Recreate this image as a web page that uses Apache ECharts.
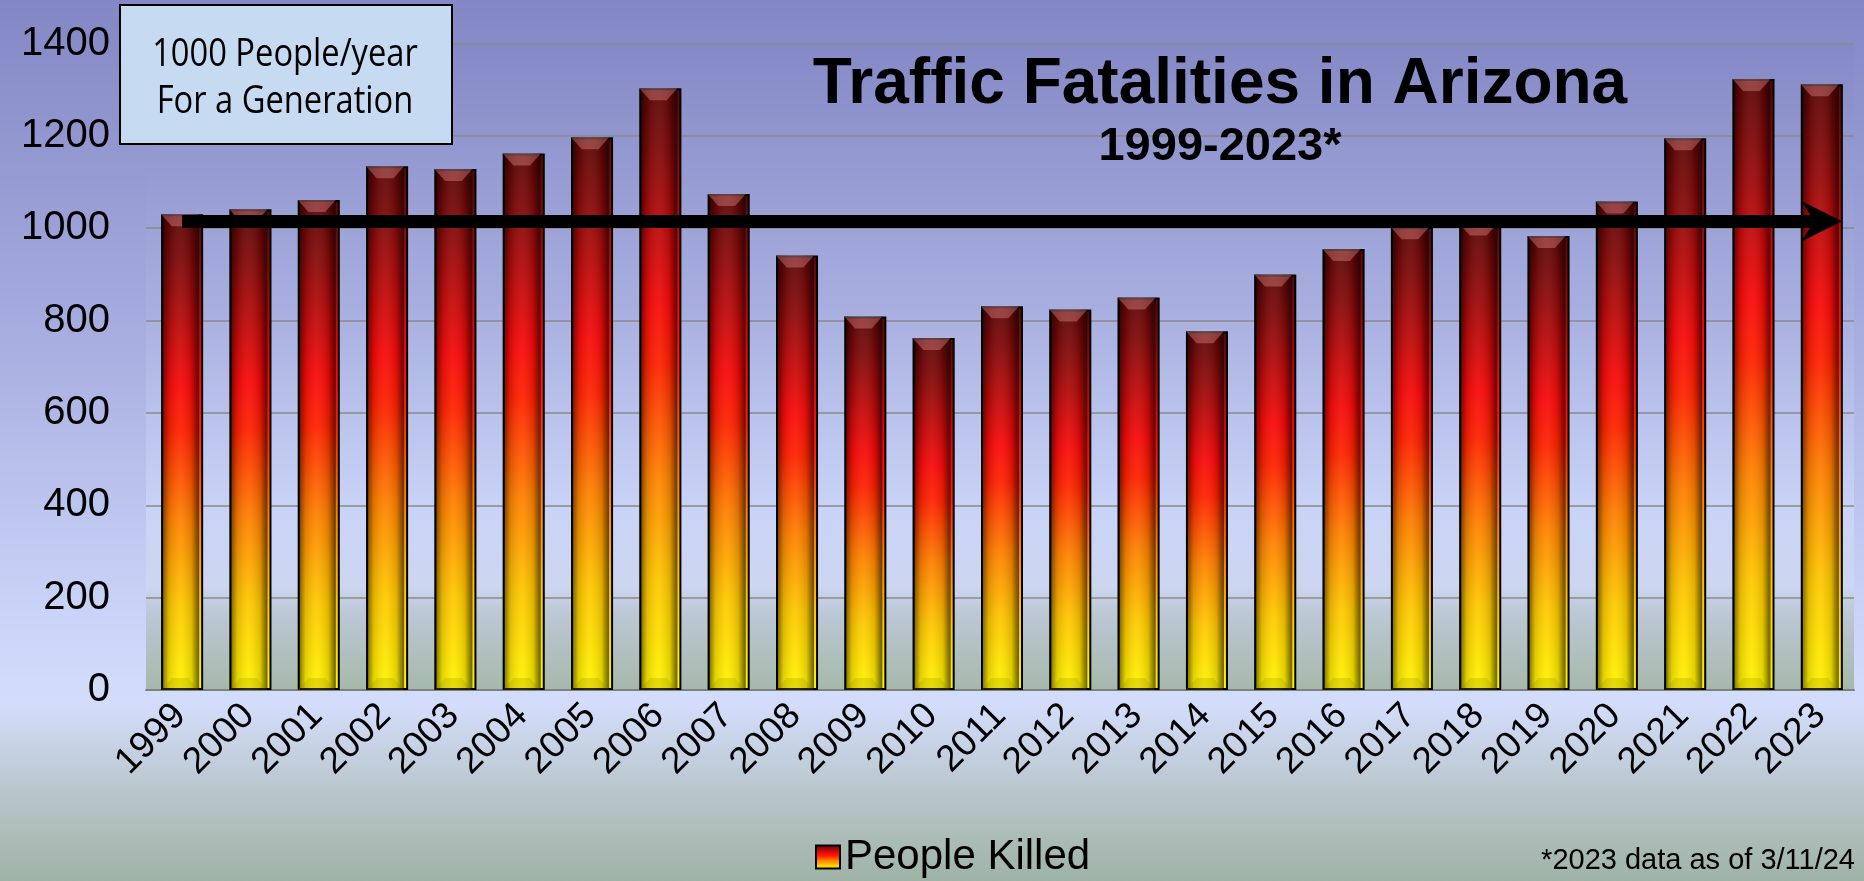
<!DOCTYPE html>
<html>
<head>
<meta charset="utf-8">
<title>Traffic Fatalities in Arizona</title>
<script src="https://cdn.jsdelivr.net/npm/echarts@6/dist/echarts.min.js"></script>
<style>
  html, body { margin: 0; padding: 0; }
  #chart { width: 1864px; height: 881px; }
</style>
</head>
<body>
<div id="chart"></div>
<script>
  // data
  var years = ['1999', '2000', '2001', '2002', '2003', '2004', '2005', '2006', '2007', '2008',
    '2009', '2010', '2011', '2012', '2013', '2014', '2015', '2016', '2017', '2018',
    '2019', '2020', '2021', '2022', '2023'];
  var peopleKilled = [1030, 1041, 1061, 1134, 1128, 1162, 1197, 1303, 1074, 941,
    809, 762, 831, 824, 850, 777, 900, 955, 1002, 1010,
    983, 1058, 1195, 1323, 1312];
  var yTicks = [0, 200, 400, 600, 800, 1000, 1200, 1400];
  var arrowLevel = 1015;

  var G = echarts.graphic;
  var font = '"Liberation Sans", Arial, sans-serif';

  var barFill = new G.LinearGradient(0, 0, 0, 1, [
    { offset: 0, color: '#5a0606' },
    { offset: 0.12, color: '#870a0a' },
    { offset: 0.36, color: '#f80a0a' },
    { offset: 0.46, color: '#ff2200' },
    { offset: 0.64, color: '#ff8000' },
    { offset: 0.82, color: '#ffc800' },
    { offset: 1, color: '#fff500' }
  ]);
  var edgeShade = new G.LinearGradient(0, 0, 1, 0, [
    { offset: 0, color: 'rgba(0,0,0,0.6)' },
    { offset: 0.2, color: 'rgba(0,0,0,0.12)' },
    { offset: 0.5, color: 'rgba(255,255,255,0.06)' },
    { offset: 0.8, color: 'rgba(0,0,0,0.12)' },
    { offset: 1, color: 'rgba(0,0,0,0.6)' }
  ]);

  var chart = echarts.init(document.getElementById('chart'));
  chart.setOption({
    animation: false,
    backgroundColor: new G.LinearGradient(0, 0, 0, 1, [
      { offset: 0, color: '#8387c5' },
      { offset: 0.35, color: '#a4aadd' },
      { offset: 0.7, color: '#cad4f8' },
      { offset: 0.8, color: '#d3ddfb' },
      { offset: 0.9, color: '#b8c6cc' },
      { offset: 1, color: '#9fb3a5' }
    ]),
    grid: {
      left: 146, right: 10, top: 43.5, bottom: 191,
      show: true,
      borderWidth: 0,
      backgroundColor: new G.LinearGradient(0, 0, 0, 1, [
        { offset: 0, color: '#8589c6' },
        { offset: 0.4, color: '#a7aedf' },
        { offset: 0.72, color: '#c9d3f7' },
        { offset: 0.84, color: '#ccd6f0' },
        { offset: 0.88, color: '#bcc8d6' },
        { offset: 1, color: '#a6b8aa' }
      ])
    },
    legend: {
      data: [{ name: 'People Killed', icon: 'rect' }],
      left: 810, top: 831,
      itemWidth: 24, itemHeight: 23,
      itemGap: 10,
      itemStyle: { borderColor: '#000', borderWidth: 2 },
      textStyle: { fontFamily: font, fontSize: 42, color: '#000' }
    },
    xAxis: {
      type: 'category',
      data: years,
      axisTick: { show: false },
      axisLine: { lineStyle: { color: '#808080', width: 2 } },
      axisLabel: { rotate: 45, margin: 20, fontFamily: font, fontSize: 37, color: '#000' }
    },
    yAxis: {
      type: 'value',
      min: yTicks[0],
      max: yTicks[yTicks.length - 1],
      interval: 200,
      axisLine: { show: false },
      axisTick: { show: false },
      splitLine: { lineStyle: { color: '#8a8a8a', width: 1.5 } },
      axisLabel: {
        margin: 36, fontFamily: font, fontSize: 40, color: '#000',
        formatter: function (v) { return String(v); }
      }
    },
    graphic: [
      {
        type: 'rect', left: 119, top: 4, z: 10,
        shape: { width: 332, height: 139 },
        style: { fill: '#c6daf2', stroke: '#000', lineWidth: 2 }
      },
      {
        type: 'text', x: 285, y: 55, z: 11, scaleX: 0.86,
        style: { text: '1000 People/year', font: '38px "Open Sans", sans-serif', fill: '#000', align: 'center', verticalAlign: 'middle' }
      },
      {
        type: 'text', x: 285, y: 102, z: 11, scaleX: 0.86,
        style: { text: 'For a Generation', font: '38px "Open Sans", sans-serif', fill: '#000', align: 'center', verticalAlign: 'middle' }
      },
      {
        type: 'text', x: 1220, y: 85, z: 11,
        style: { text: 'Traffic Fatalities in Arizona', font: 'bold 64px ' + font, fill: '#000', align: 'center', verticalAlign: 'middle' }
      },
      {
        type: 'text', x: 1220, y: 147, z: 11,
        style: { text: '1999-2023*', font: 'bold 47px ' + font, fill: '#000', align: 'center', verticalAlign: 'middle' }
      },
      {
        type: 'text', x: 1855, y: 861, z: 11,
        style: { text: '*2023 data as of 3/11/24', font: '29px ' + font, fill: '#000', align: 'right', verticalAlign: 'middle' }
      }
    ],
    series: [
      {
        name: 'People Killed',
        type: 'bar',
        data: peopleKilled,
        barWidth: 42,
        itemStyle: { color: barFill, borderColor: '#000', borderWidth: 2 },
        markLine: {
          silent: true,
          symbol: ['none', 'path://M5,0 L10,10 L5,7 L0,10 Z'],
          symbolSize: 40,
          label: { show: false },
          emphasis: { disabled: true },
          itemStyle: { color: '#000' },
          lineStyle: { color: '#000', width: 13, type: 'solid', opacity: 1 },
          data: [[{ coord: [years[0], arrowLevel] }, { coord: [years[years.length - 1], arrowLevel] }]]
        }
      },
      {
        name: 'shade',
        type: 'bar',
        data: peopleKilled,
        barWidth: 38,
        barGap: '-100%',
        silent: true,
        itemStyle: { color: edgeShade }
      },
      {
        name: 'topCap',
        type: 'pictorialBar',
        data: peopleKilled,
        symbol: 'path://M0,0 L10,0 L7.2,3 L2.8,3 Z',
        symbolSize: [38, 12],
        symbolPosition: 'end',
        barGap: '-100%',
        silent: true,
        z: 4,
        itemStyle: { color: 'rgba(230,140,140,0.4)' }
      },
      {
        name: 'bottomCap',
        type: 'pictorialBar',
        data: peopleKilled,
        symbol: 'path://M2.8,0 L7.2,0 L10,3 L0,3 Z',
        symbolSize: [38, 12],
        symbolPosition: 'start',
        barGap: '-100%',
        silent: true,
        z: 4,
        itemStyle: { color: 'rgba(150,130,0,0.22)' }
      }
    ]
  });
</script>
</body>
</html>
